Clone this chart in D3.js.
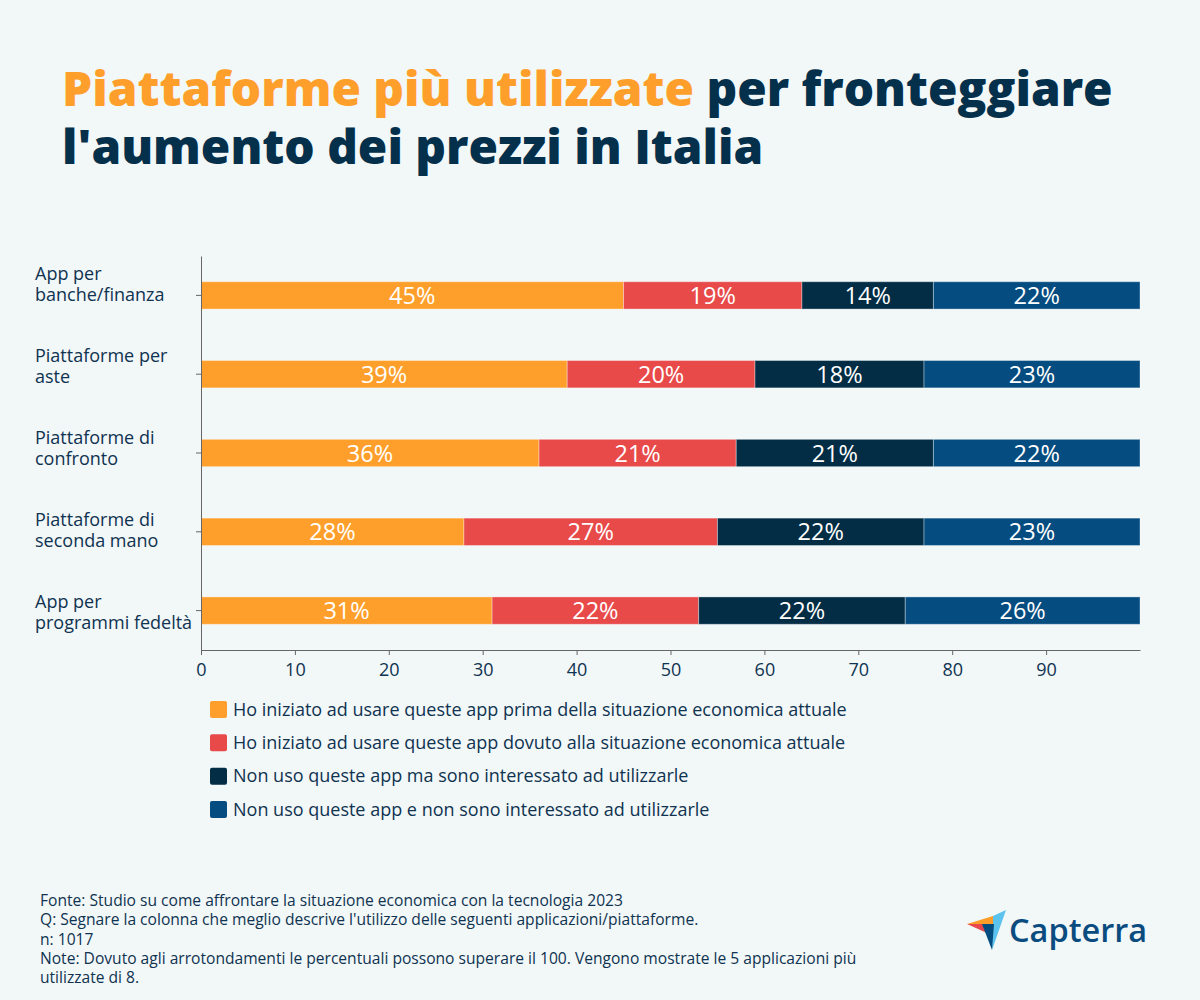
<!DOCTYPE html>
<html>
<head>
<meta charset="utf-8">
<script src="https://cdn.jsdelivr.net/npm/d3@7"></script>
<style>
  html, body { margin: 0; padding: 0; background: #f2f7f8; }
  svg { display: block; }
</style>
</head>
<body>
<svg id="chart" width="1200" height="1000"></svg>
<script>
// ---- Data ----
const categories = [
  ["App per", "banche/finanza"],
  ["Piattaforme per", "aste"],
  ["Piattaforme di", "confronto"],
  ["Piattaforme di", "seconda mano"],
  ["App per", "programmi fedeltà"]
];
const seriesNames = [
  "Ho iniziato ad usare queste app prima della situazione economica attuale",
  "Ho iniziato ad usare queste app dovuto alla situazione economica attuale",
  "Non uso queste app ma sono interessato ad utilizzarle",
  "Non uso queste app e non sono interessato ad utilizzarle"
];
const primaValues     = [45, 39, 36, 28, 31];
const dovutoValues    = [19, 20, 21, 27, 22];
const interessato     = [14, 18, 21, 22, 22];
const nonInteressato  = [22, 23, 22, 23, 26];
const xTicks = [0, 10, 20, 30, 40, 50, 60, 70, 80, 90];
const colors = ["#ff9f2b", "#e84a4a", "#022d45", "#054c80"];
const footerLines = [
  "Fonte: Studio su come affrontare la situazione economica con la tecnologia 2023",
  "Q: Segnare la colonna che meglio descrive l'utilizzo delle seguenti applicazioni/piattaforme.",
  "n: 1017",
  "Note: Dovuto agli arrotondamenti le percentuali possono superare il 100. Vengono mostrate le 5 applicazioni più",
  "utilizzate di 8."
];

const series = [primaValues, dovutoValues, interessato, nonInteressato];
const keys = categories.map((c, i) => i);

const svg = d3.select("#chart");
const FONT = "'Open Sans', 'Noto Sans', sans-serif";
const TEXT = "#0f3350";

svg.append("rect").attr("width", 1200).attr("height", 1000).attr("fill", "#f2f7f8");

// ---- Title ----
const title = svg.append("text").attr("font-family", FONT).attr("font-weight", 800)
  .attr("font-size", 46);
const t1 = title.append("tspan").attr("x", 62).attr("y", 106);
t1.append("tspan").attr("fill", "#ff9f2b").text("Piattaforme più utilizzate");
t1.append("tspan").attr("fill", "#05304b").text(" per fronteggiare");
title.append("tspan").attr("x", 62).attr("y", 164).attr("fill", "#05304b").text("l'aumento dei prezzi in Italia");
// fit first line to the reference width
const w1 = t1.node().getComputedTextLength();
if (w1 > 0) title.attr("font-size", 46 * 1051 / w1);

// ---- Scales ----
const x = d3.scaleLinear().domain([0, 100]).range([201, 1140]).clamp(true);
const y = d3.scaleBand().domain(keys).range([256, 650]).paddingInner(0.653).paddingOuter(0.3265);
const labelY = d3.scalePoint().domain(keys).range([280, 608]);

// ---- Stacked bars ----
const stackData = keys.map(i => {
  const o = { idx: i };
  series.forEach((s, k) => o["s" + k] = s[i]);
  return o;
});
const stack = d3.stack().keys(series.map((s, k) => "s" + k));
const stacked = stack(stackData);

const g = svg.append("g");
stacked.forEach((layer, k) => {
  const lg = g.append("g");
  lg.selectAll("rect").data(layer).join("rect")
    .attr("x", d => x(d[0]))
    .attr("y", d => y(d.data.idx))
    .attr("width", d => x(d[1]) - x(d[0]))
    .attr("height", y.bandwidth())
    .attr("fill", colors[k])
    .attr("stroke", "rgba(255,255,255,0.35)")
    .attr("stroke-width", 1);
  lg.selectAll("text").data(layer).join("text")
    .attr("x", d => (x(d[0]) + x(d[1])) / 2)
    .attr("y", d => y(d.data.idx) + y.bandwidth() / 2 + 8.5)
    .attr("text-anchor", "middle")
    .attr("font-family", FONT)
    .attr("font-size", 23.5)
    .attr("fill", "#ffffff")
    .text(d => (d[1] - d[0]) + "%");
});

// ---- Axes ----
const xAxis = svg.append("g").attr("transform", "translate(0,650)")
  .call(d3.axisBottom(x).tickValues(xTicks).tickSize(5).tickSizeOuter(0).tickPadding(8));
xAxis.select(".domain").attr("stroke", "#666");
xAxis.selectAll(".tick line").attr("stroke", "#666");
xAxis.selectAll(".tick text").attr("font-family", FONT).attr("font-size", 18).attr("fill", TEXT);

const yAxis = svg.append("g").attr("transform", "translate(201,0)")
  .call(d3.axisLeft(y).tickSize(5).tickSizeOuter(0).tickFormat(""));
yAxis.select(".domain").attr("stroke", "#666");
yAxis.selectAll(".tick line").attr("stroke", "#666");

// Y category labels
const yl = svg.append("g");
categories.forEach((lines, i) => {
  const t = yl.append("text").attr("font-family", FONT).attr("font-size", 18).attr("fill", TEXT);
  lines.forEach((ln, j) => {
    t.append("tspan").attr("x", 35).attr("y", labelY(i) + j * 21).text(ln);
  });
});

// ---- Legend ----
const legY = d3.scalePoint().domain(d3.range(seriesNames.length)).range([709, 809]);
const leg = svg.append("g");
seriesNames.forEach((name, k) => {
  leg.append("rect").attr("x", 210).attr("y", legY(k) - 8).attr("width", 17).attr("height", 17)
    .attr("rx", 2).attr("fill", colors[k]);
  leg.append("text").attr("x", 233).attr("y", legY(k) + 6.5)
    .attr("font-family", FONT).attr("font-size", 18).attr("fill", TEXT).text(name);
});

// ---- Footer ----
const ft = svg.append("text").attr("font-family", FONT).attr("font-size", 15.6).attr("fill", TEXT);
footerLines.forEach((ln, i) => {
  ft.append("tspan").attr("x", 40).attr("y", 906 + i * 19.3).text(ln);
});

// ---- Capterra logo ----
const logo = svg.append("g");
logo.append("polygon").attr("points", "993,916 1006,910 992,950").attr("fill", "#5cc2ee");
logo.append("polygon").attr("points", "967,924 993,916 993,924").attr("fill", "#ff9d28");
logo.append("polygon").attr("points", "967,924 984,924 987,933").attr("fill", "#e8474b");
logo.append("polygon").attr("points", "982,924 994,924 992,950").attr("fill", "#054c80");
logo.append("text").attr("x", 1009).attr("y", 942).attr("font-family", FONT)
  .attr("font-weight", 600).attr("font-size", 32.5).attr("fill", "#0a4b80").text("Capterra");
</script>
</body>
</html>
